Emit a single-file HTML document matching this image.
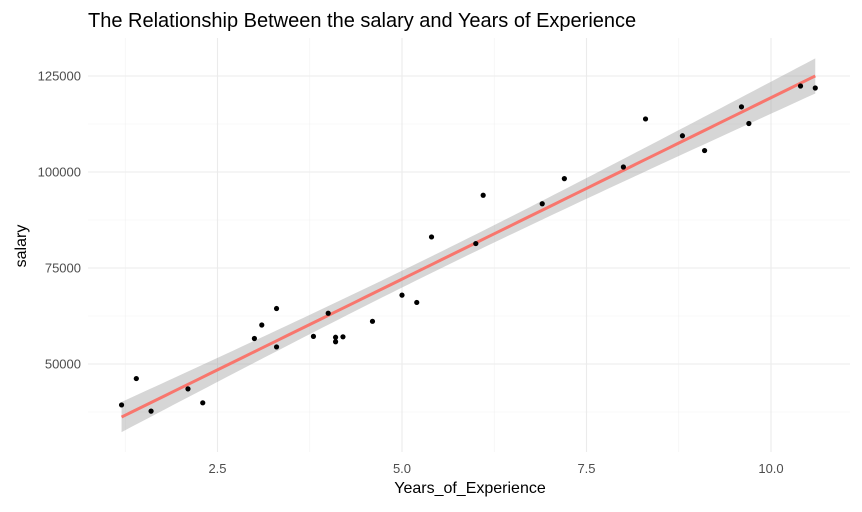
<!DOCTYPE html>
<html><head><meta charset="utf-8"><style>
body{margin:0;background:#fff;}
svg text{font-family:"Liberation Sans",sans-serif;}
</style></head><body>
<svg id="chart" width="862" height="507" xmlns="http://www.w3.org/2000/svg">
<text x="88" y="27" font-size="20" fill="#000">The Relationship Between the salary and Years of Experience</text>
<g id="grid"></g><g id="band"></g><g id="pts"></g><g id="axes"></g>
<text x="470" y="493" font-size="16" text-anchor="middle" fill="#000">Years_of_Experience</text>
<text transform="translate(26,246) rotate(-90)" font-size="16" text-anchor="middle" fill="#000">salary</text>
</svg>
<script>
const years=[1.2,1.4,1.6,2.1,2.3,3.0,3.1,3.3,3.3,3.8,4.0,4.1,4.1,4.2,4.6,5.0,5.2,5.4,6.0,6.1,6.9,7.2,8.0,8.3,8.8,9.1,9.6,9.7,10.4,10.6];
const salary=[39343,46205,37731,43525,39891,56642,60150,54445,64445,57189,63218,55794,56957,57081,61111,67938,66029,83088,81363,93940,91738,98273,101302,113812,109431,105582,116969,112635,122391,121872];
const xTicks=[2.5,5.0,7.5,10.0];
const xMinor=[1.25,3.75,6.25,8.75];
const yTicks=[50000,75000,100000,125000];
const yMinor=[37500,62500,87500,112500];
const NS="http://www.w3.org/2000/svg";
const X=v=>217.5+(v-2.5)*73.8;
const Y=v=>364-(v-50000)*96/25000;
function mk(t,a,p){const e=document.createElementNS(NS,t);for(const k in a)e.setAttribute(k,a[k]);document.getElementById(p).appendChild(e);return e;}
const L=88,R=850,T=38,B=452;
xMinor.forEach(v=>{const e=mk('line',{x1:X(v),x2:X(v),y1:T,y2:B,stroke:'#f2f2f2','stroke-width':0.6},'grid');

});
yMinor.forEach(v=>{const e=mk('line',{x1:L,x2:R,y1:Y(v),y2:Y(v),stroke:'#f2f2f2','stroke-width':0.6},'grid');

});
xTicks.forEach(v=>{const e=mk('line',{x1:X(v),x2:X(v),y1:T,y2:B,stroke:'#ebebeb','stroke-width':1.1},'grid');


const t=mk('text',{x:X(v),y:473,'font-size':13,'text-anchor':'middle',fill:'#4d4d4d'},'axes');t.textContent=v.toFixed(1);

});
yTicks.forEach(v=>{const e=mk('line',{x1:L,x2:R,y1:Y(v),y2:Y(v),stroke:'#ebebeb','stroke-width':1.1},'grid');


const t=mk('text',{x:81,y:Y(v)+4.5,'font-size':13,'text-anchor':'end',fill:'#4d4d4d'},'axes');t.textContent=v;

});
const n=years.length,mx=years.reduce((a,b)=>a+b)/n,my=salary.reduce((a,b)=>a+b)/n;
let sxx=0,sxy=0;years.forEach((x,i)=>{sxx+=(x-mx)**2;sxy+=(x-mx)*(salary[i]-my);});
const b1=sxy/sxx,b0=my-b1*mx;let sse=0;years.forEach((x,i)=>{sse+=(salary[i]-b0-b1*x)**2;});
const s=Math.sqrt(sse/(n-2)),tq=2.048;
const x0=Math.min(...years),x1=Math.max(...years);const up=[],lo=[],ln=[];
for(let i=0;i<=80;i++){const x=x0+(x1-x0)*i/80,f=b0+b1*x,se=tq*s*Math.sqrt(1/n+(x-mx)**2/sxx);
up.push(X(x)+','+Y(f+se));lo.unshift(X(x)+','+Y(f-se));ln.push(X(x)+','+Y(f));}
const bd=mk('polygon',{points:up.concat(lo).join(' '),fill:'#999','fill-opacity':0.4},'band');


const fl=mk('polyline',{points:ln.join(' '),fill:'none',stroke:'#F8766D','stroke-width':3},'band');


years.forEach((x,i)=>{const c=mk('circle',{cx:X(x),cy:Y(salary[i]),r:2.6,fill:'#000'},'pts');

});
</script>
</body></html>
